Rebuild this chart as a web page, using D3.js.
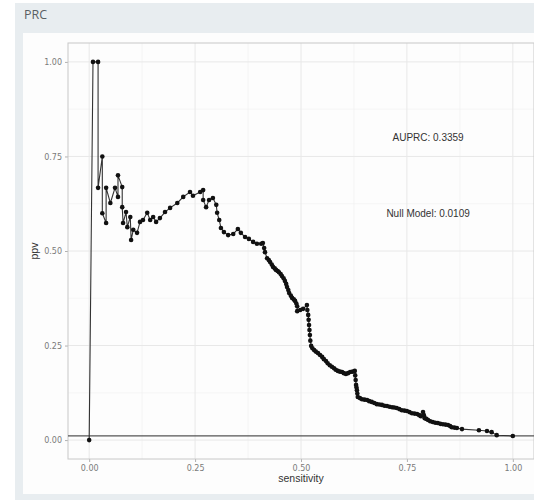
<!DOCTYPE html>
<html>
<head>
<meta charset="utf-8">
<script src="https://cdn.jsdelivr.net/npm/d3@7"></script>
<style>
  body { margin: 0; background: #fff; font-family: "Liberation Sans", Arial, sans-serif; }
</style>
</head>
<body>
<svg id="chart" width="534" height="503"></svg>
<script>
// PR curve values
const sensitivity = [0, 0.009, 0.021, 0.021, 0.031, 0.031, 0.040, 0.040, 0.050, 0.061, 0.068, 0.068, 0.078, 0.078, 0.080,
  0.087, 0.090, 0.097, 0.099, 0.104, 0.113, 0.120, 0.127, 0.137, 0.144, 0.151, 0.158, 0.167, 0.179, 0.191,
  0.208, 0.222, 0.238, 0.245, 0.262, 0.269, 0.269, 0.276, 0.283, 0.292, 0.300, 0.302, 0.307, 0.311, 0.318,
  0.328, 0.340, 0.351, 0.358, 0.368, 0.377, 0.387, 0.396, 0.406, 0.410, 0.413, 0.415, 0.420, 0.424, 0.427, 0.431, 0.434, 0.438, 0.441,
  0.445, 0.448, 0.452, 0.455, 0.459, 0.462, 0.465, 0.467, 0.470, 0.472, 0.476, 0.479, 0.483, 0.486, 0.489, 0.491, 0.491, 0.498, 0.505, 0.514,
  0.515, 0.517, 0.518, 0.519, 0.520, 0.521, 0.522, 0.524,
  0.527, 0.531, 0.535, 0.540, 0.545, 0.550, 0.554, 0.559, 0.563, 0.568, 0.573, 0.578, 0.582, 0.587, 0.592, 0.597, 0.601, 0.606, 0.611,
  0.616, 0.622, 0.627, 0.628, 0.629, 0.630, 0.631, 0.632, 0.633, 0.634, 0.639, 0.644,
  0.650, 0.656, 0.661, 0.667, 0.673, 0.679, 0.685, 0.691, 0.697, 0.703, 0.709, 0.715, 0.720, 0.726, 0.732, 0.738, 0.744, 0.750, 0.756,
  0.762, 0.768, 0.774, 0.779, 0.783, 0.788, 0.790, 0.792, 0.796, 0.800, 0.805,
  0.811, 0.817, 0.823, 0.829, 0.835, 0.841, 0.847, 0.852, 0.856, 0.862, 0.868, 0.880, 0.920, 0.939, 0.950, 0.962, 1.0];
const ppv = [0, 1.0, 1.0, 0.667, 0.75, 0.60, 0.574, 0.667, 0.627, 0.667, 0.643, 0.70, 0.669, 0.616, 0.574,
  0.603, 0.563, 0.590, 0.529, 0.556, 0.548, 0.577, 0.582, 0.601, 0.582, 0.590, 0.577, 0.587, 0.603, 0.614,
  0.627, 0.643, 0.656, 0.646, 0.656, 0.661, 0.635, 0.616, 0.635, 0.640, 0.622, 0.601, 0.582, 0.561, 0.550,
  0.542, 0.545, 0.558, 0.548, 0.537, 0.532, 0.524, 0.519, 0.519, 0.521, 0.508, 0.497, 0.481, 0.476, 0.471, 0.464, 0.458, 0.454, 0.450,
  0.447, 0.444, 0.439, 0.434, 0.428, 0.421, 0.413, 0.405, 0.397, 0.389, 0.382, 0.376, 0.372, 0.368, 0.361, 0.354, 0.341, 0.344, 0.347, 0.357,
  0.344, 0.331, 0.318, 0.304, 0.291, 0.278, 0.263, 0.249,
  0.243, 0.238, 0.234, 0.230, 0.225, 0.220, 0.214, 0.209, 0.203, 0.198, 0.194, 0.190, 0.186, 0.183, 0.181, 0.180, 0.177, 0.175, 0.177,
  0.180, 0.181, 0.183, 0.171, 0.159, 0.146, 0.139, 0.132, 0.123, 0.114, 0.111, 0.108,
  0.107, 0.106, 0.103, 0.101, 0.098, 0.095, 0.094, 0.093, 0.091, 0.090, 0.088, 0.087, 0.086, 0.085, 0.082, 0.079, 0.078, 0.077, 0.074,
  0.071, 0.070, 0.069, 0.066, 0.063, 0.074, 0.066, 0.058, 0.056, 0.053, 0.050,
  0.048, 0.046, 0.045, 0.043, 0.042, 0.041, 0.040, 0.037, 0.034, 0.033, 0.032, 0.029, 0.026, 0.024, 0.021, 0.013, 0.011];
const nullModel = 0.0109;
const auprc = 0.3359;
const ticks = [0, 0.25, 0.5, 0.75, 1];
const minorTicks = [0.125, 0.375, 0.625, 0.875];

const points = sensitivity.map((s, i) => ({ s: s, p: ppv[i] }));

const svg = d3.select("#chart");

// shiny-ish box around the plot
svg.append("rect").attr("x", 15).attr("y", 3).attr("width", 530).attr("height", 497).attr("fill", "#e8edf0");
svg.append("text").attr("x", 24).attr("y", 19).attr("fill", "#5a5f63")
  .style("font-family", "'Open Sans', sans-serif").style("font-size", "12.5px").text("PRC");
svg.append("rect").attr("x", 23).attr("y", 33).attr("width", 520).attr("height", 461).attr("fill", "#fdfdfd");

const panel = { left: 68, right: 534, top: 43, bottom: 459 };

const x = d3.scaleLinear().domain([-0.05, 1.05]).range([panel.left, panel.right]);
const y = d3.scaleLinear().domain([-0.05, 1.05]).range([panel.bottom, panel.top]);

const g = svg.append("g");

// grid
g.selectAll(".minx").data(minorTicks).join("line")
  .attr("x1", d => x(d)).attr("x2", d => x(d)).attr("y1", panel.top).attr("y2", panel.bottom)
  .attr("stroke", "#f0f0f0").attr("stroke-width", 0.6);
g.selectAll(".miny").data(minorTicks).join("line")
  .attr("y1", d => y(d)).attr("y2", d => y(d)).attr("x1", panel.left).attr("x2", panel.right)
  .attr("stroke", "#f0f0f0").attr("stroke-width", 0.6);
g.selectAll(".majx").data(ticks).join("line")
  .attr("x1", d => x(d)).attr("x2", d => x(d)).attr("y1", panel.top).attr("y2", panel.bottom)
  .attr("stroke", "#e8e8e8").attr("stroke-width", 1);
g.selectAll(".majy").data(ticks).join("line")
  .attr("y1", d => y(d)).attr("y2", d => y(d)).attr("x1", panel.left).attr("x2", panel.right)
  .attr("stroke", "#e8e8e8").attr("stroke-width", 1);

// axes
const fmt = d3.format(".2f");
const xAxis = g.append("g").attr("transform", `translate(0,${panel.bottom})`)
  .call(d3.axisBottom(x).tickValues(ticks).tickFormat(fmt).tickSize(3).tickPadding(3));
const yAxis = g.append("g").attr("transform", `translate(${panel.left},0)`)
  .call(d3.axisLeft(y).tickValues(ticks).tickFormat(fmt).tickSize(3).tickPadding(3));
[xAxis, yAxis].forEach(a => {
  a.select(".domain").remove();
  a.selectAll(".tick line").attr("stroke", "#b0b0b0");
  a.selectAll(".tick text").attr("fill", "#7a7a7a").style("font-size", "8px")
    .style("font-family", "'DejaVu Sans', sans-serif");
});

g.append("rect").attr("x", panel.left).attr("y", panel.top)
  .attr("width", panel.right - panel.left).attr("height", panel.bottom - panel.top)
  .attr("fill", "none").attr("stroke", "#c8c8c8").attr("stroke-width", 1);

// null model line
g.append("line").attr("x1", panel.left).attr("x2", panel.right)
  .attr("y1", y(nullModel)).attr("y2", y(nullModel))
  .attr("stroke", "#555").attr("stroke-width", 1.2);

// curve
const line = d3.line().x(d => x(d.s)).y(d => y(d.p));
g.append("path").datum(points).attr("d", line)
  .attr("fill", "none").attr("stroke", "#333").attr("stroke-width", 1.1);
g.selectAll(".pt").data(points).join("circle")
  .attr("cx", d => x(d.s)).attr("cy", d => y(d.p)).attr("r", 2.3).attr("fill", "#111");

// annotations
g.append("text").attr("x", x(0.8)).attr("y", y(0.8)).attr("text-anchor", "middle").attr("dy", "0.35em")
  .attr("fill", "#333").style("font-size", "10px").text("AUPRC: " + auprc);
g.append("text").attr("x", x(0.8)).attr("y", y(0.6)).attr("text-anchor", "middle").attr("dy", "0.35em")
  .attr("fill", "#333").style("font-size", "10px").text("Null Model: " + nullModel);

// axis titles
svg.append("text").attr("x", x(0.5)).attr("y", 482).attr("text-anchor", "middle")
  .attr("fill", "#333").style("font-size", "10.5px").text("sensitivity");
svg.append("text").attr("transform", `translate(38,${y(0.5)}) rotate(-90)`).attr("text-anchor", "middle")
  .attr("fill", "#333").style("font-size", "10.5px").text("ppv");
</script>
</body>
</html>
